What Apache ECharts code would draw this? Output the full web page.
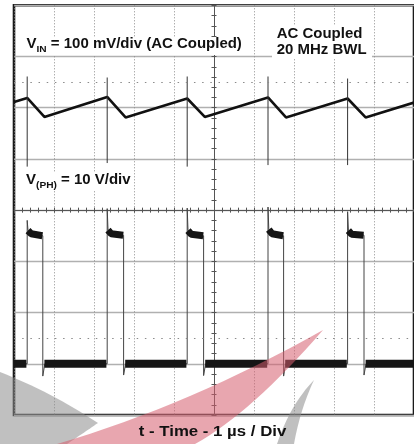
<!DOCTYPE html>
<html>
<head>
<meta charset="utf-8">
<script src="https://cdn.jsdelivr.net/npm/echarts@6/dist/echarts.min.js"></script>
<style>
  html, body { margin: 0; padding: 0; background: #fff; }
  #chart { width: 414px; height: 444px; }
</style>
</head>
<body>
<div id="chart"></div>
<script>
// time in µs (1 µs / div, 10 div across)
const vinTime = [0, 0.33, 0.76, 2.33, 2.79, 4.33, 4.77, 6.35, 6.80, 8.34, 8.79, 10];
const vinMv   = [11, 19, -18, 21, -19, 18, -18, 20, -19, 18, -19, 10];

const spikeTime  = [0.33, 2.33, 4.33, 6.35, 8.34];
const spikeTopMv = [61, 59, 61, 61, 57];
const spikeLowMv = [-115, -108, -115, -112, -112];

const phRise       = [0.33, 2.33, 4.33, 6.35, 8.34];
const phFall       = [0.72, 2.74, 4.74, 6.74, 8.75];
const phPeakV      = [28.0, 30.3, 30.4, 30.6, 29.7];
const phHighStartV = [26.0, 26.1, 26.0, 26.2, 26.0];
const phHighKneeV  = [25.4, 25.4, 25.3, 25.4, 25.3];
const phHighEndV   = [25.0, 25.1, 25.0, 25.0, 25.1];
const phUnderV     = [-2.4, -2.2, -2.3, -2.4, -2.2];
const phLowV = 0;

const markerV = [5, 55];

const chart = echarts.init(document.getElementById('chart'));
const FONT = '"Liberation Sans", Arial, sans-serif';
const ctx = document.createElement('canvas').getContext('2d');

function centerX(pos, showLine) {
  return {
    type: 'value', min: -5, max: 5, interval: 0.2, position: pos,
    axisLine: { show: showLine, onZero: true, onZeroAxisIndex: 3, lineStyle: { color: '#555', width: 1 } },
    axisTick: { show: true, inside: true, length: 2.5, lineStyle: { color: '#555', width: 1 } },
    axisLabel: { show: false }, splitLine: { show: false }
  };
}
function centerY(pos, showLine) {
  return {
    type: 'value', min: -4, max: 4, interval: 0.2, position: pos,
    axisLine: { show: showLine, onZero: true, onZeroAxisIndex: 1, lineStyle: { color: '#555', width: 1 } },
    axisTick: { show: true, inside: true, length: 2.5, lineStyle: { color: '#555', width: 1 } },
    axisLabel: { show: false }, splitLine: { show: false }
  };
}

function label(x, y, parts, scaleX) {
  let cx = 0;
  const children = parts.map(p => {
    ctx.font = 'bold ' + p.size + 'px ' + FONT;
    const el = {
      type: 'text', x: cx, y: p.dy || 0, z: 120,
      style: { text: p.text, fontSize: p.size, fontWeight: 'bold', fontFamily: FONT,
               fill: '#111', verticalAlign: 'middle', align: 'left' }
    };
    cx += ctx.measureText(p.text).width;
    return el;
  });
  return { type: 'group', x: x, y: y, scaleX: scaleX, z: 120, children: children };
}

// watermark outline: a list of quadratic curves [start, control, end]
function swoosh(curves, fill) {
  const pts = [];
  curves.forEach(c => {
    const [a, q, b] = c;
    for (let k = 0; k <= 16; k++) {
      const s = k / 16, u = 1 - s;
      pts.push([u * u * a[0] + 2 * u * s * q[0] + s * s * b[0],
                u * u * a[1] + 2 * u * s * q[1] + s * s * b[1]]);
    }
  });
  return { type: 'polygon', z: 100, silent: true, shape: { points: pts }, style: { fill: fill } };
}

const series = [];
series.push({
  type: 'line', xAxisIndex: 0, yAxisIndex: 1, symbol: 'none', z: 3,
  data: vinTime.map((t, i) => [t, vinMv[i]]),
  lineStyle: { color: '#111', width: 2.6 }
});
spikeTime.forEach((t, i) => series.push({
  type: 'line', xAxisIndex: 0, yAxisIndex: 1, symbol: 'none', z: 4,
  data: [[t, spikeTopMv[i]], [t, spikeLowMv[i]]],
  lineStyle: { color: '#333', width: 1 }
}));

const phThin = [[0, phLowV]];
phRise.forEach((t, i) => {
  phThin.push([t, phLowV], [t, phPeakV[i]], [t + 0.02, phHighStartV[i]],
    [phFall[i], phHighEndV[i]], [phFall[i], phUnderV[i]], [phFall[i] + 0.05, phLowV]);
});
phThin.push([10, phLowV]);
series.push({
  type: 'line', xAxisIndex: 0, yAxisIndex: 2, symbol: 'none', z: 3,
  data: phThin, lineStyle: { color: '#444', width: 1 },
  markLine: {
    silent: true, symbol: 'none', label: { show: false },
    lineStyle: { color: '#8a8a8a', width: 1, type: [1.5, 6.68] },
    data: markerV.map(v => ({ yAxis: v }))
  }
});

// thick noisy bands
const lowStart = [0].concat(phFall.map(t => t + 0.04));
const lowEnd = phRise.map(t => t - 0.02).concat([10]);
lowStart.forEach((t, i) => series.push({
  type: 'line', xAxisIndex: 0, yAxisIndex: 2, symbol: 'none', z: 4,
  data: [[t, phLowV], [lowEnd[i], phLowV]],
  lineStyle: { color: '#151515', width: 8 }
}));
phRise.forEach((t, i) => series.push({
  type: 'line', xAxisIndex: 0, yAxisIndex: 2, symbol: 'none', z: 4,
  data: [[t + 0.02, phHighStartV[i]], [t + 0.1, phHighKneeV[i]], [phFall[i] - 0.01, phHighEndV[i]]],
  lineStyle: { color: '#151515', width: 7 }
}));

const option = {
  animation: false,
  backgroundColor: '#fff',
  grid: { left: 14, top: 5.3, width: 409, height: 409.7, show: true,
          borderColor: '#1a1a1a', borderWidth: 2.6, backgroundColor: '#fff' },
  xAxis: [
    { type: 'value', min: 0, max: 10, interval: 1,
      axisLine: { show: false }, axisTick: { show: false }, axisLabel: { show: false },
      splitLine: { show: true, lineStyle: { color: '#8c8c8c', width: 1, type: [1, 2] } } },
    centerX('bottom', true),
    centerX('top', false)
  ],
  yAxis: [
    { type: 'value', min: 0, max: 8, interval: 1,
      axisLine: { show: false }, axisTick: { show: false }, axisLabel: { show: false },
      splitLine: { show: true, lineStyle: { color: '#b0b0b0', width: 1.3 } } },
    { type: 'value', min: -600, max: 200, interval: 100, show: false, splitLine: { show: false } },
    { type: 'value', min: -10, max: 70, interval: 10, show: false, splitLine: { show: false } },
    centerY('left', true),
    centerY('right', false)
  ],
  series: series,
  graphic: [
    { type: 'rect', z: 110, shape: { x: 24, y: 37, width: 222, height: 18 }, style: { fill: '#fff' } },
    { type: 'rect', z: 110, shape: { x: 272, y: 25, width: 100, height: 34 }, style: { fill: '#fff' } },
    { type: 'rect', z: 110, shape: { x: 24, y: 172, width: 109, height: 19 }, style: { fill: '#fff' } },
    label(26.5, 44.6, [{ text: 'V', size: 14 }, { text: 'IN', size: 9.5, dy: 4.8 },
                       { text: ' = 100 mV/div (AC Coupled)', size: 14 }], 1.07),
    label(276.7, 34.5, [{ text: 'AC Coupled', size: 14 }], 1.07),
    label(276.7, 50.2, [{ text: '20 MHz BWL', size: 14 }], 1.07),
    label(26, 180.5, [{ text: 'V', size: 14 }, { text: '(PH)', size: 9.5, dy: 4.5 },
                      { text: ' = 10 V/div', size: 14 }], 1.07),
    swoosh([[[0, 372], [51, 392], [98, 423]], [[98, 423], [82, 434], [67, 444]], [[67, 444], [33, 444], [0, 444]]],
           'rgba(140,140,140,0.55)'),
    swoosh([[[57, 444], [190, 405], [323, 330]], [[323, 330], [251, 413], [195, 444]]],
           'rgba(214,92,110,0.55)'),
    swoosh([[[277, 444], [290, 405], [314, 380]], [[314, 380], [300, 410], [294, 444]]],
           'rgba(140,140,140,0.55)'),
    { type: 'group', x: 212.5, y: 431.5, scaleX: 1.12, z: 130, children: [
      { type: 'text', x: 0, y: 0, z: 130,
        style: { text: 't - Time - 1 µs / Div', fontSize: 15, fontWeight: 'bold', fontFamily: FONT,
                 fill: '#111', align: 'center', verticalAlign: 'middle' } }
    ] }
  ]
};

chart.setOption(option);
window.addEventListener('resize', () => chart.resize());
</script>
</body>
</html>
